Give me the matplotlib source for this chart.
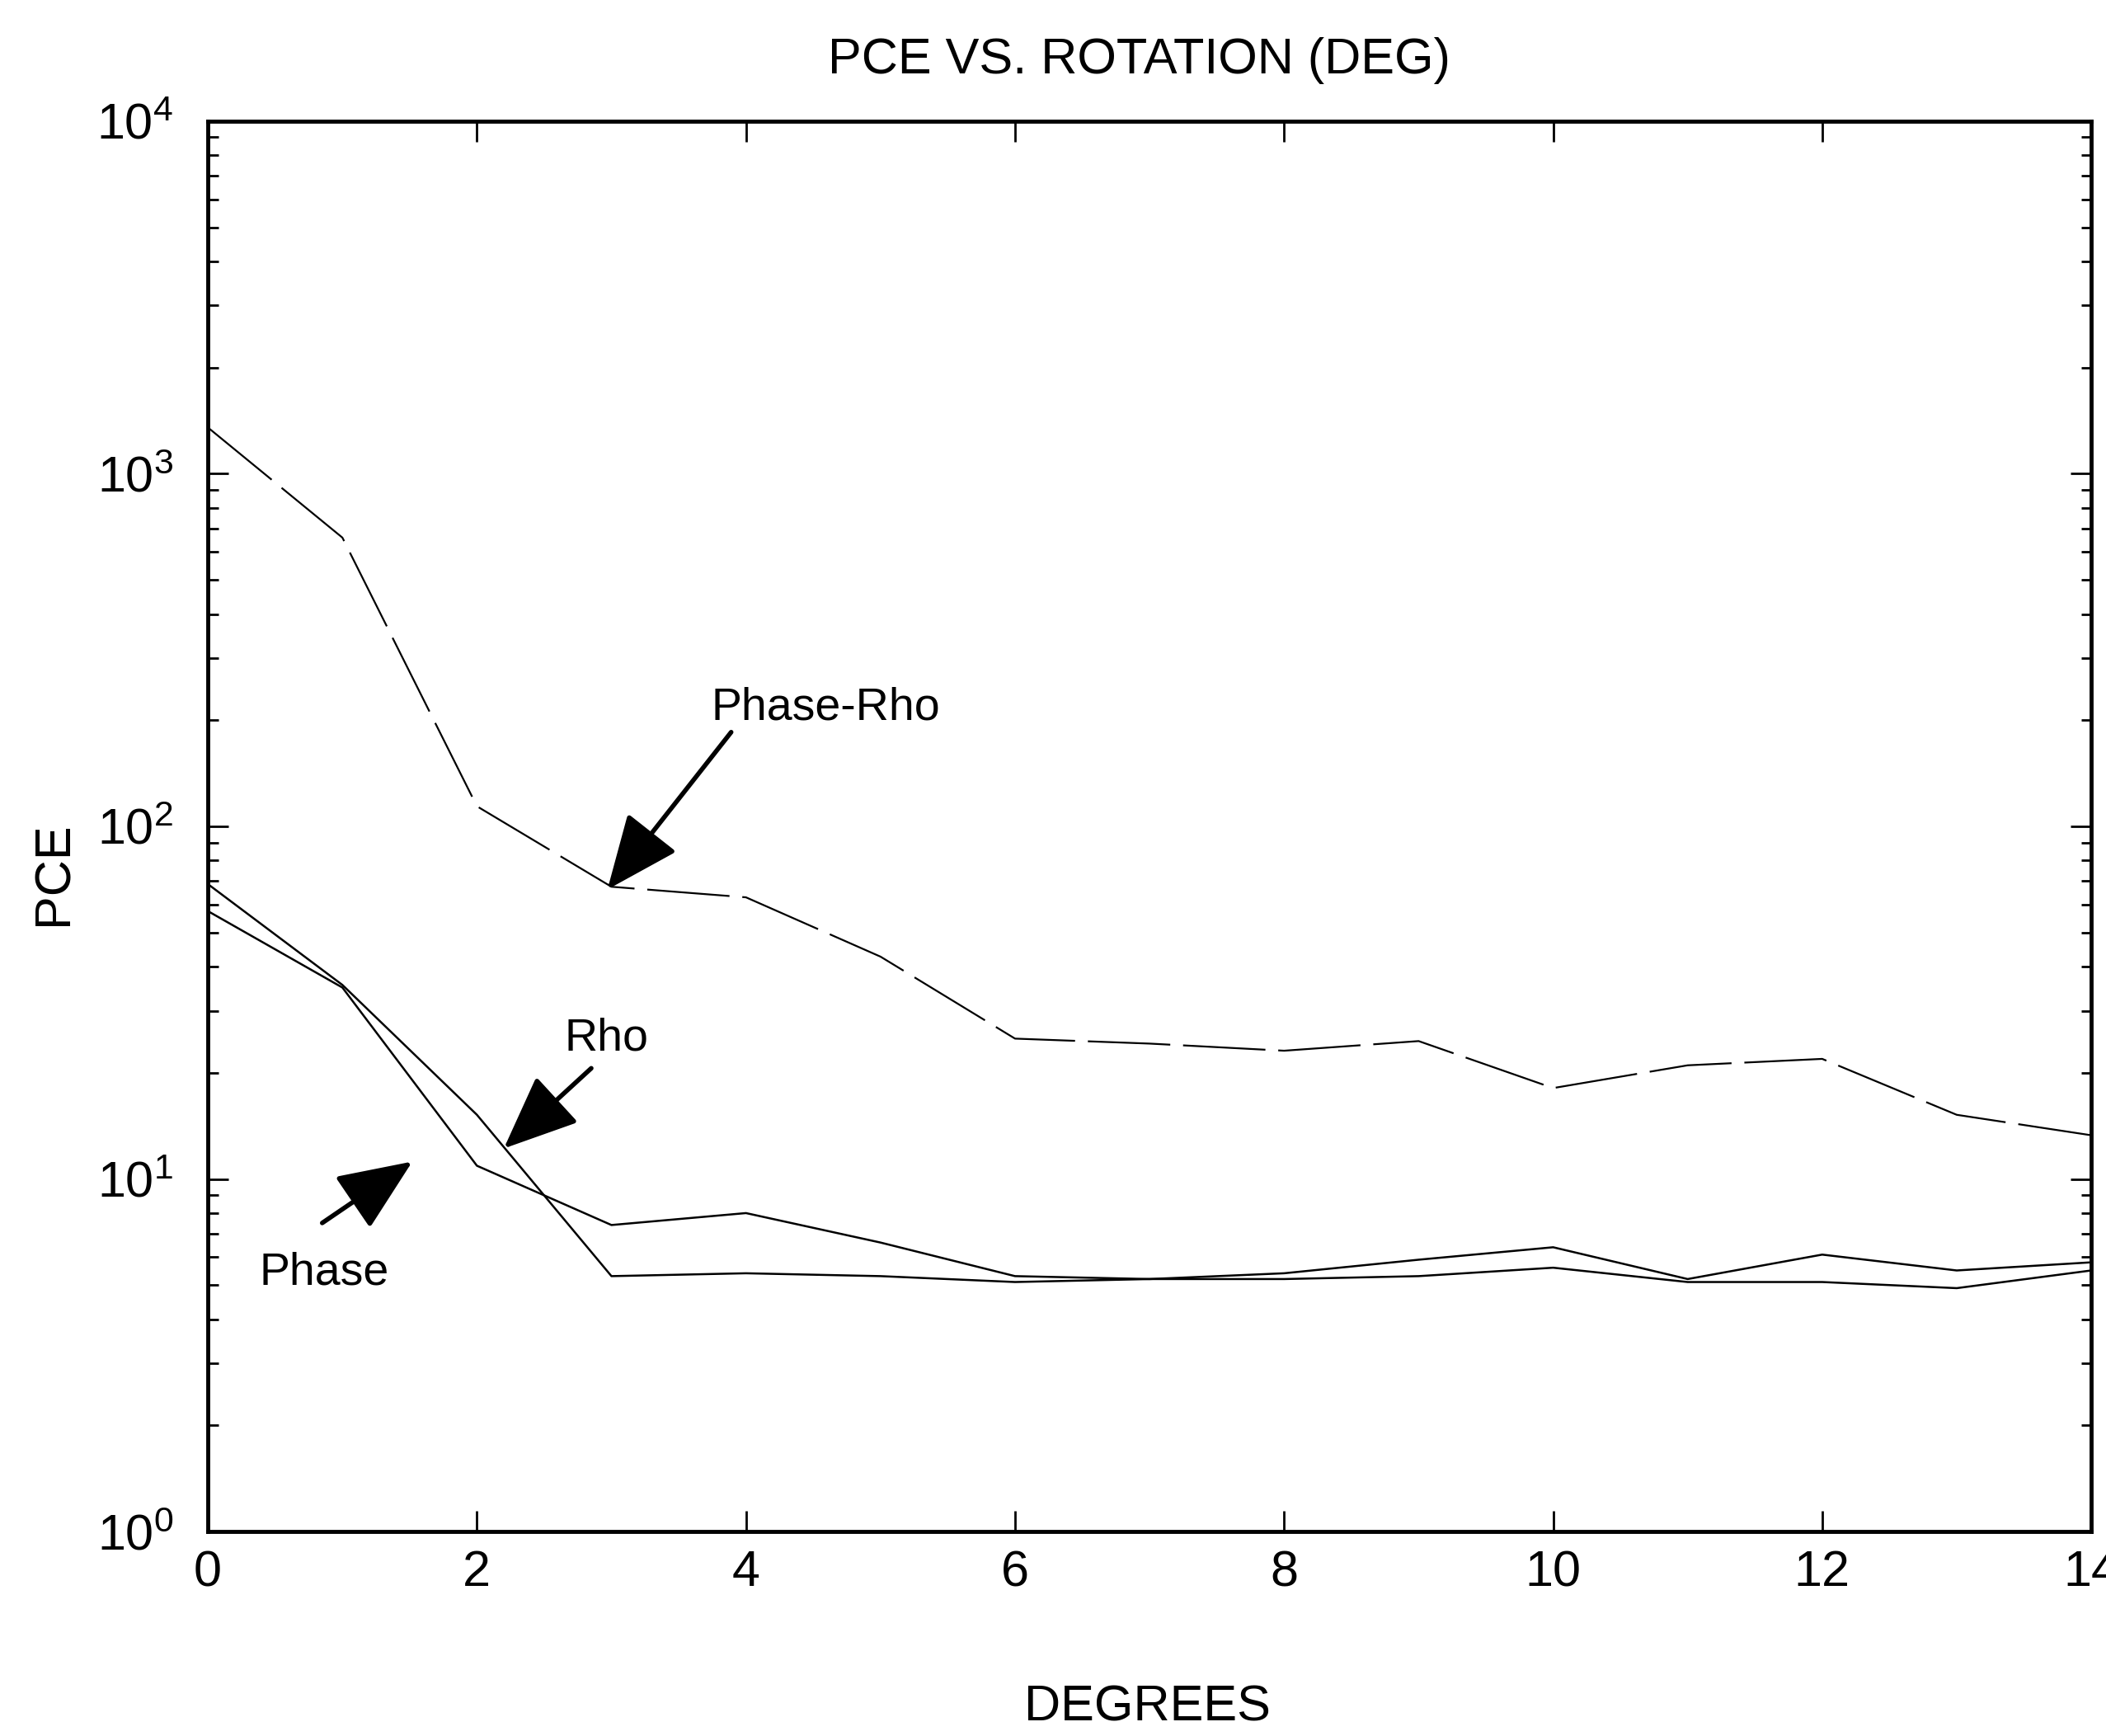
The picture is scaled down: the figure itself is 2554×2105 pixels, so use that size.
import matplotlib
matplotlib.use("Agg")
import matplotlib.pyplot as plt
from matplotlib.ticker import LogLocator, LogFormatterMathtext, NullFormatter

plt.rcParams['font.family'] = ['Liberation Sans', 'DejaVu Sans']
plt.rcParams['mathtext.fontset'] = 'custom'
plt.rcParams['mathtext.rm'] = 'Liberation Sans'

# values
degrees = [0, 1, 2, 3, 4, 5, 6, 7, 8, 9, 10, 11, 12, 13, 14]
pce_phase_rho = [1353, 659, 114, 67.4, 62.9, 42.7, 25.0, 24.2, 23.1, 24.6, 18.1, 21.0, 21.9, 15.2, 13.3]
pce_rho = [68.6, 35.5, 15.2, 5.3, 5.4, 5.3, 5.1, 5.2, 5.2, 5.3, 5.6, 5.1, 5.1, 4.9, 5.5]
pce_phase = [57.5, 34.9, 10.9, 7.4, 8.0, 6.6, 5.3, 5.2, 5.4, 5.9, 6.4, 5.2, 6.1, 5.5, 5.8]

fig = plt.figure(figsize=(25.54, 21.05), dpi=100)
ax = fig.add_axes([0.0987, 0.1178, 0.8943, 0.8124])

ax.plot(degrees, pce_phase_rho, color='black', lw=1.6, dashes=(45, 7))
ax.plot(degrees, pce_rho, color='black', lw=1.8)
ax.plot(degrees, pce_phase, color='black', lw=1.8)

ax.set_yscale('log')
ax.set_xlim(0, 14)
ax.set_ylim(1, 1e4)
ax.set_xticks(range(0, 15, 2))
ax.yaxis.set_major_locator(LogLocator(base=10, numticks=10))
ax.yaxis.set_major_formatter(LogFormatterMathtext())
ax.yaxis.set_minor_locator(LogLocator(base=10, subs=range(2, 10), numticks=10))
ax.yaxis.set_minor_formatter(NullFormatter())

for s in ax.spines.values():
    s.set_linewidth(3.5)
ax.tick_params(which='major', direction='in', length=18, width=2, top=True, right=True,
               labelsize=44, pad=16)
ax.tick_params(axis='y', which='major', pad=30)
ax.tick_params(which='minor', direction='in', length=9, width=2, right=True)

fig.text(0.541, 0.965, 'PCE VS. ROTATION (DEG)', ha='center', va='center', fontsize=44)
fig.text(0.545, 0.016, 'DEGREES', ha='center', va='center', fontsize=44)
fig.text(0.026, 0.497, 'PCE', ha='center', va='center', rotation=90, fontsize=44)

arrow = dict(arrowstyle='-|>,head_length=0.4,head_width=0.17', color='black',
             lw=4, mutation_scale=140, shrinkA=0, shrinkB=0)
ax.text(3.74, 216, 'Phase-Rho', fontsize=40, va='center', ha='left')
ax.annotate('', xy=(2.97, 66.2), xytext=(3.89, 185), arrowprops=arrow)
ax.text(2.65, 25, 'Rho', fontsize=40, va='center', ha='left')
ax.annotate('', xy=(2.20, 12.2), xytext=(2.85, 20.6), arrowprops=arrow)
ax.text(0.38, 5.4, 'Phase', fontsize=40, va='center', ha='left')
ax.annotate('', xy=(1.52, 11.2), xytext=(0.85, 7.5), arrowprops=arrow)

fig.savefig('out.png', dpi=100)
